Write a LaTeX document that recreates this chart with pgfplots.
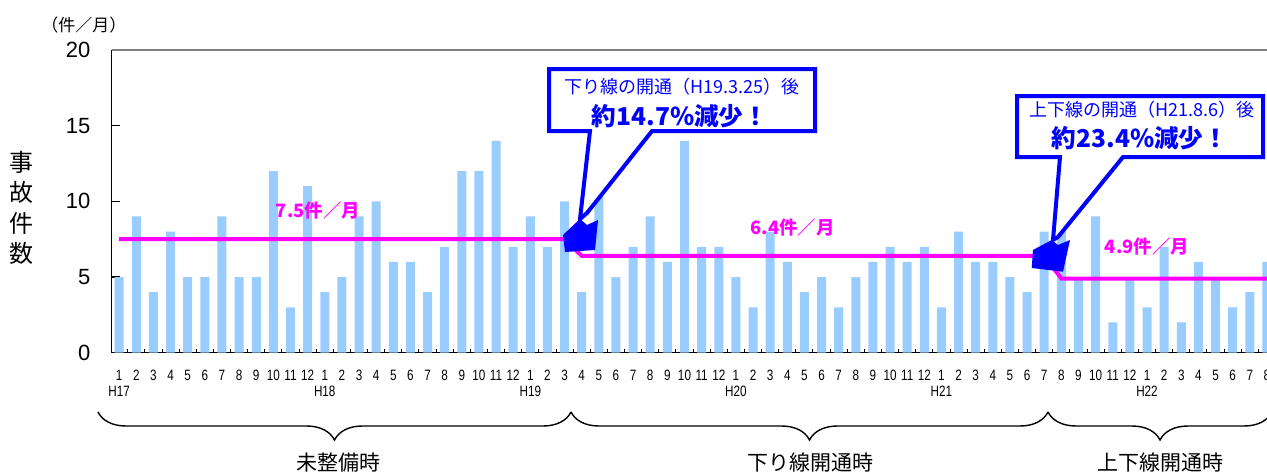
\documentclass[border=0pt]{standalone}
\usepackage{fontspec}
\setmainfont{Liberation Sans}
\newfontfamily\jp{Noto Sans CJK JP}
\newfontfamily\narrow{Liberation Sans}[FakeStretch=0.78]
\usepackage{pgfplots}
\pgfplotsset{compat=1.18}
\usetikzlibrary{decorations.pathreplacing}

\definecolor{barblue}{RGB}{153,204,255}
\definecolor{avgpink}{RGB}{255,0,255}
\definecolor{callblue}{RGB}{0,0,255}

\begin{document}
\begin{tikzpicture}
\begin{axis}[
  name=ax,
  scale only axis, width=599.55pt, height=151.35pt,
  xmin=-0.45, xmax=69.55, ymin=0, ymax=20,
  axis x line*=bottom, axis y line*=left,
  axis line style={line width=0.7pt},
  tick align=inside,
  ytick={0,5,10,15,20},
  major tick length=4pt,
  ytick style={black, line width=0.6pt},
  xtick={0,...,67},
  major x tick style={draw=none},
  minor xtick={0.5,1.5,...,67.5},
  minor x tick style={black, line width=0.5pt},
  minor tick length=2pt,
  xticklabels={{1\\H17},2,3,4,5,6,7,8,9,10,11,12,
               {1\\H18},2,3,4,5,6,7,8,9,10,11,12,
               {1\\H19},2,3,4,5,6,7,8,9,10,11,12,
               {1\\H20},2,3,4,5,6,7,8,9,10,11,12,
               {1\\H21},2,3,4,5,6,7,8,9,10,11,12,
               {1\\H22},2,3,4,5,6,7,8},
  xticklabel style={font=\narrow\fontsize{7.5}{8}\selectfont, align=center, yshift=-5pt},
  yticklabel style={font=\fontsize{11}{13}\selectfont, xshift=-7pt},
  /pgf/number format/assume math mode=true,
]
% monthly accidents H17.1 - H22.8
\addplot[ybar, bar width=4.5pt, fill=barblue, draw=none] coordinates {
  (0,5)(1,9)(2,4)(3,8)(4,5)(5,5)(6,9)(7,5)(8,5)(9,12)(10,3)(11,11)
  (12,4)(13,5)(14,9)(15,10)(16,6)(17,6)(18,4)(19,7)(20,12)(21,12)(22,14)(23,7)
  (24,9)(25,7)(26,10)(27,4)(28,15)(29,5)(30,7)(31,9)(32,6)(33,14)(34,7)(35,7)
  (36,5)(37,3)(38,8)(39,6)(40,4)(41,5)(42,3)(43,5)(44,6)(45,7)(46,6)(47,7)
  (48,3)(49,8)(50,6)(51,6)(52,5)(53,4)(54,8)(55,8)(56,5)(57,9)(58,2)(59,5)
  (60,3)(61,7)(62,2)(63,6)(64,5)(65,3)(66,4)(67,6)
};
% period averages
\addplot[avgpink, line width=2pt, sharp plot] coordinates {
  (0,7.5)(26,7.5)(27,6.4)(54,6.4)(55,4.9)(67,4.9)
};
\node[avgpink, font=\jp\bfseries\fontsize{9.2}{11}\selectfont] at (axis cs:11.6,9.37) {7.5件／月};
\node[avgpink, font=\jp\bfseries\fontsize{9.2}{11}\selectfont] at (axis cs:39.3,8.24) {6.4件／月};
\node[avgpink, font=\jp\bfseries\fontsize{9.2}{11}\selectfont] at (axis cs:60.0,6.99) {4.9件／月};
\end{axis}
\draw[gray, line width=0.7pt] (ax.north west) -- (ax.north east);

% annotations in pixel units of the reference (origin bottom left)
\begin{scope}[shift={(-55.75pt,-59.65pt)}, x=0.5pt, y=0.5pt]
% callout 1
\draw[callblue, line width=2pt, fill=white, line join=miter]
  (549,403) -- (815,403) -- (815,341) -- (652,341) -- (587,259) -- (580,253) -- (590,341) -- (549,341) -- cycle;
\fill[callblue] (563,237) -- (580,253) -- (587,247) -- (598,252) -- (595,222) -- (565,220) -- cycle;
\node[callblue, font=\jp\fontsize{9}{11}\selectfont] at (682,385.3) {下り線の開通（H19.3.25）後};
\node[callblue, font=\jp\bfseries\fontsize{12.3}{14}\selectfont] at (680,355.3) {約14.7\%減少！};

% callout 2
\draw[callblue, line width=2pt, fill=white, line join=miter]
  (1017,376) -- (1263,376) -- (1263,315) -- (1123,315) -- (1058,235) -- (1053,232) -- (1060,315) -- (1017,315) -- cycle;
\fill[callblue] (1033,222) -- (1051.7,232) -- (1058,227) -- (1070,232) -- (1063,200.3) -- (1031.7,204) -- cycle;
\node[callblue, font=\jp\fontsize{9}{11}\selectfont] at (1142,362) {上下線の開通（H21.8.6）後};
\node[callblue, font=\jp\bfseries\fontsize{12.3}{14}\selectfont] at (1140,333.7) {約23.4\%減少！};

% period braces
\draw[decorate, decoration={brace, mirror, amplitude=14pt}, line width=0.7pt] (98,60) -- (571,60);
\draw[decorate, decoration={brace, mirror, amplitude=14pt}, line width=0.7pt] (571,60) -- (1048,60);
\draw[decorate, decoration={brace, mirror, amplitude=14pt}, line width=0.7pt] (1048,60) -- (1272,60);
\node[font=\jp\fontsize{10.5}{12}\selectfont] at (338,9) {未整備時};
\node[font=\jp\fontsize{10.5}{12}\selectfont] at (810,9) {下り線開通時};
\node[font=\jp\fontsize{10.5}{12}\selectfont] at (1160,9) {上下線開通時};

% axis titles
\node[font=\jp\fontsize{12}{15.25}\selectfont, align=center] at (21.7,264) {事\\故\\件\\数};
\node[font=\jp\fontsize{8.5}{10}\selectfont] at (84,447) {（件／月）};

\pgfresetboundingbox
\path[use as bounding box] (0,0) rectangle (1267,472);
\end{scope}
\end{tikzpicture}
\end{document}
